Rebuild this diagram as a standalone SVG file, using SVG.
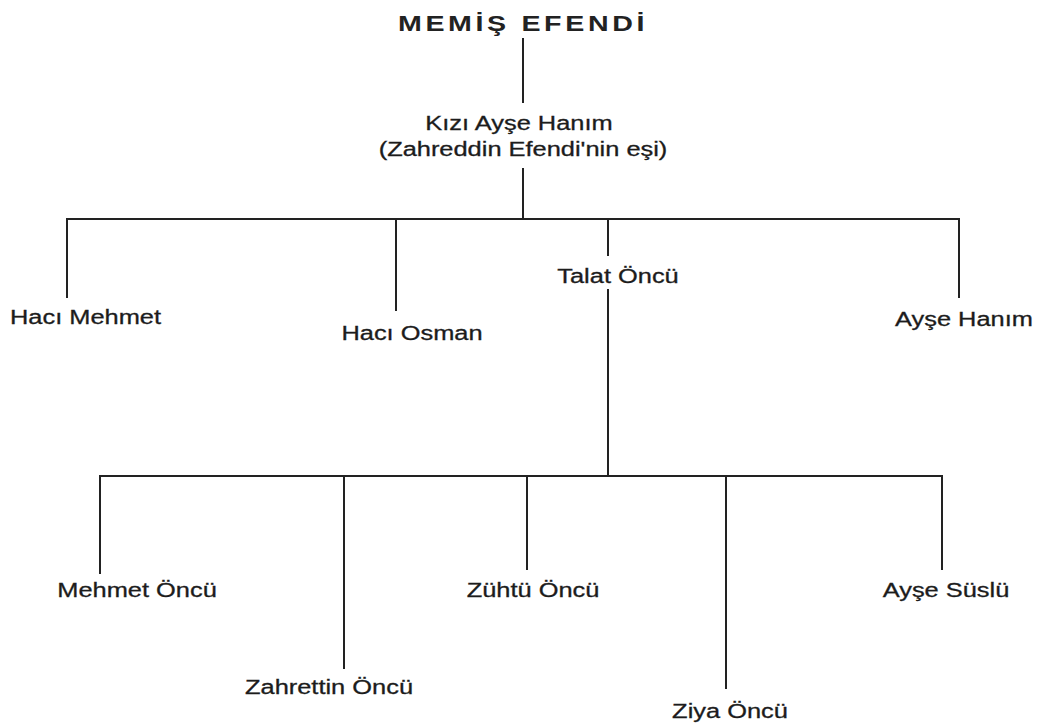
<svg xmlns="http://www.w3.org/2000/svg" width="1047" height="727" viewBox="0 0 1047 727">
<style>
.t{font-family:"Liberation Sans",Arial,sans-serif;font-size:20px;fill:#1c1c1c;stroke:#1c1c1c;stroke-width:0.3;text-anchor:middle}
.title{font-family:"Liberation Sans",Arial,sans-serif;font-size:22px;font-weight:bold;fill:#222;text-anchor:middle;letter-spacing:2.8px}
.c line{stroke:#222;stroke-width:2;stroke-linecap:square}
</style>
<rect width="1047" height="727" fill="#fff"/>
<g id="connectors" class="c">
<line x1="523" y1="39" x2="523" y2="102"/>
<line x1="523" y1="169" x2="523" y2="219"/>
<line x1="67" y1="219" x2="959" y2="219"/>
<line x1="67" y1="219" x2="67" y2="297"/>
<line x1="396" y1="219" x2="396" y2="310"/>
<line x1="608" y1="219" x2="608" y2="255"/>
<line x1="959" y1="219" x2="959" y2="297"/>
<line x1="608" y1="290" x2="608" y2="476"/>
<line x1="100" y1="476" x2="942" y2="476"/>
<line x1="100" y1="476" x2="100" y2="573"/>
<line x1="344" y1="476" x2="344" y2="668"/>
<line x1="527" y1="476" x2="527" y2="569"/>
<line x1="726" y1="476" x2="726" y2="688"/>
<line x1="942" y1="476" x2="942" y2="569"/>
</g>
<g id="memis-efendi"><text class="title" transform="translate(523,31) scale(1.3,1)">MEMİŞ EFENDİ</text></g>
<g id="kizi-ayse-hanim">
<text class="t" transform="translate(519,130) scale(1.27,1)">Kızı Ayşe Hanım</text>
<text class="t" transform="translate(523,156) scale(1.27,1)">(Zahreddin Efendi'nin eşi)</text>
</g>
<g id="haci-mehmet"><text class="t" transform="translate(85.5,324) scale(1.27,1)">Hacı Mehmet</text></g>
<g id="haci-osman"><text class="t" transform="translate(412,340) scale(1.27,1)">Hacı Osman</text></g>
<g id="talat-oncu"><text class="t" transform="translate(618,283) scale(1.27,1)">Talat Öncü</text></g>
<g id="ayse-hanim"><text class="t" transform="translate(964,326) scale(1.27,1)">Ayşe Hanım</text></g>
<g id="mehmet-oncu"><text class="t" transform="translate(137,597) scale(1.27,1)">Mehmet Öncü</text></g>
<g id="zahrettin-oncu"><text class="t" transform="translate(329,694) scale(1.27,1)">Zahrettin Öncü</text></g>
<g id="zuhtu-oncu"><text class="t" transform="translate(533,597) scale(1.27,1)">Zühtü Öncü</text></g>
<g id="ziya-oncu"><text class="t" transform="translate(730,718) scale(1.27,1)">Ziya Öncü</text></g>
<g id="ayse-suslu"><text class="t" transform="translate(946,597) scale(1.27,1)">Ayşe Süslü</text></g>
</svg>
